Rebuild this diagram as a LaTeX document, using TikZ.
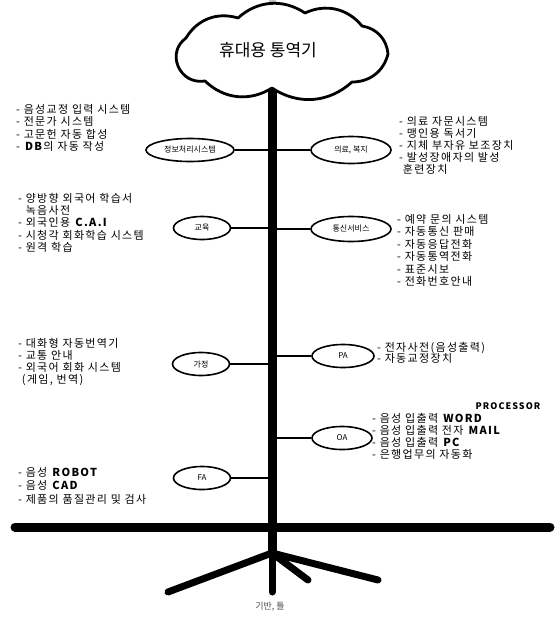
\documentclass[tikz,border=0pt]{standalone}
\usepackage{fontspec}
\setmainfont{Noto Sans CJK KR}
\newfontfamily\spaced{Noto Sans CJK KR}[LetterSpace=12]
\usetikzlibrary{shapes.geometric, positioning}

\tikzset{
  leaf/.style={ellipse, draw, line width=1.6pt, fill=white, inner sep=0pt,
    minimum height=23pt, font=\fontsize{8}{9}\selectfont},
  items/.style={anchor=north west, align=left, inner sep=0pt,
    font=\spaced\fontsize{11}{12.5}\selectfont},
  twig/.style={line width=1.5pt},
  root/.style={line width=7pt, line cap=round},
  puff/.style={bend left=38},
}

\begin{document}
\begin{tikzpicture}[x=1pt,y=-1pt]
  \useasboundingbox (0,0) rectangle (554,618);

  % trunk, ground and roots
  \coordinate (top) at (272,80);
  \coordinate (base) at (272,592);
  \coordinate (knot) at (272,553);
  \draw[line width=7pt, gray!45] (272,0) -- (272,10);
  \draw[line width=9pt] (top) -- (knot);
  \draw[root] (knot) -- (base);
  \draw[root] (knot) -- (168,592);
  \draw[root] (knot) -- (378,580);
  \draw[root] (knot) -- (308,580);
  \draw[line width=9pt, line cap=round] (15,527) -- (550,527);

  % the crown
  \filldraw[fill=white, line width=2.8pt, line join=round]
    (178,66) to[puff] (186,38) to[puff] (238,18) to[puff] (305,13)
    to[puff] (362,26) to[puff] (388,54) to[puff] (352,82)
    to[puff] (272,88) to[puff] (205,81) to[puff] cycle;
  \node[font=\fontsize{17}{19}\selectfont, inner sep=0pt] (head) at (268,50) {휴대용 통역기};

  % branches on the left
  \node[leaf, minimum width=88pt] (info) at (190,150) {정보처리시스템};
  \node[leaf, minimum width=57pt] (edu) at (202,228) {교육};
  \node[leaf, minimum width=57pt] (home) at (201,364) {가정};
  \node[leaf, minimum width=57pt] (fa) at (202,478) {FA};
  \foreach \n in {info, edu, home, fa}
    \draw[twig] (\n.east) -- (\n.east -| top);

  % branches on the right
  \node[leaf, minimum width=80pt, minimum height=27pt] (care) at (351,150) {의료, 복지};
  \node[leaf, minimum width=80pt, minimum height=25pt] (tel) at (351,229) {통신서비스};
  \node[leaf, minimum width=62pt] (pa) at (343,356) {PA};
  \node[leaf, minimum width=60pt] (oa) at (342,438) {OA};
  \foreach \n in {care, tel, pa, oa}
    \draw[twig] (\n.west) -- (\n.west -| top);

  % leaves
  \node[items] (infolist) at (16,104) {- 음성교정 입력 시스템\\- 전문가 시스템\\- 고문헌 자동 합성\\- \textbf{DB}의 자동 작성};
  \node[items, font=\spaced\fontsize{11}{12.3}\selectfont] (edulist) at (18,193) {- 양방향 외국어 학습서\\\ \ 녹음사전\\- 외국인용 \textbf{C.A.I}\\- 시청각 회화학습 시스템\\- 원격 학습};
  \node[items, font=\spaced\fontsize{11}{12}\selectfont] (homelist) at (18,338) {- 대화형 자동번역기\\- 교통 안내\\- 외국어 회화 시스템\\\ (게임, 번역)};
  \node[items, font=\spaced\fontsize{11}{13.5}\selectfont] (falist) at (18,467) {- 음성 \textbf{ROBOT}\\- 음성 \textbf{CAD}\\- 제품의 품질관리 및 검사};

  \node[items, font=\spaced\fontsize{11}{12}\selectfont] (carelist) at (399,116) {- 의료 자문시스템\\- 맹인용 독서기\\- 지체 부자유 보조장치\\- 발성장애자의 발성\\\ 훈련장치};
  \node[items] (tellist) at (397,214) {- 예약 문의 시스템\\- 자동통신 판매\\- 자동응답전화\\- 자동통역전화\\- 표준시보\\- 전화번호안내};
  \node[items, font=\spaced\fontsize{11}{11.5}\selectfont] (palist) at (377,342) {- 전자사전(음성출력)\\- 자동교정장치};
  \node[items, font=\spaced\fontsize{11}{12}\selectfont] (oalist) at (372,413) {- 음성 입출력 \textbf{WORD}\\- 음성 입출력 전자 \textbf{MAIL}\\- 음성 입출력 \textbf{PC}\\- 은행업무의 자동화};
  \node[font=\spaced\fontsize{9}{10}\selectfont\bfseries, inner sep=0pt] (proc) at (508,406) {PROCESSOR};

  \node[font=\fontsize{9}{10}\selectfont, text=black!70, inner sep=0pt] (soil) at (270,607) {기반, 틀};
\end{tikzpicture}
\end{document}
